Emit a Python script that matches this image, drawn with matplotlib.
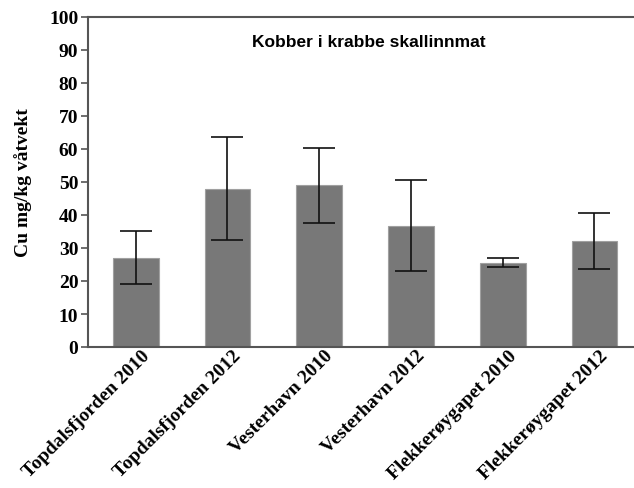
import matplotlib
matplotlib.use("Agg")
import matplotlib.pyplot as plt
from matplotlib.transforms import ScaledTranslation

# Copper in crab brown meat, mean ± SD per site and year
categories = ["Topdalsfjorden 2010", "Topdalsfjorden 2012", "Vesterhavn 2010",
              "Vesterhavn 2012", "Flekkerøygapet 2010", "Flekkerøygapet 2012"]
means = [27.1, 48.0, 49.0, 36.8, 25.5, 32.0]
sd = [8.0, 15.5, 11.3, 13.9, 1.35, 8.5]
yticks = [0, 10, 20, 30, 40, 50, 60, 70, 80, 90, 100]

serif = ["Liberation Serif", "DejaVu Serif"]
sans = ["Liberation Sans", "DejaVu Sans"]

fig = plt.figure(figsize=(6.34, 4.89), dpi=100)
ax = fig.add_axes([88 / 634, 1 - 348 / 489, 1 - 88 / 634 + 0.01, 330 / 489])

x = list(range(len(categories)))
ax.bar(x, means, width=0.5, color="#787878", edgecolor="#a0a0a0", linewidth=0.8, zorder=2)
ax.errorbar(x, means, yerr=sd, fmt="none", ecolor="#111111", elinewidth=1.2,
            capsize=11.5, capthick=1.2, zorder=3)

ax.set_xlim(-0.52, 5.5)
ax.set_ylim(0, 100)
ax.set_yticks(yticks)
ax.set_yticklabels([str(v) for v in yticks], fontfamily=serif, fontweight="bold", fontsize=14)
ax.set_xticks(x)
ax.set_xticklabels(categories, rotation=45, ha="right", rotation_mode="anchor",
                   fontfamily=serif, fontweight="bold", fontsize=14)
ax.tick_params(axis="x", length=0, pad=1)
ax.tick_params(axis="y", length=5, width=1.2, color="#555555", pad=2)
shift = ScaledTranslation(5 / 100, 2 / 100, fig.dpi_scale_trans)
for lbl in ax.get_xticklabels():
    lbl.set_transform(lbl.get_transform() + shift)

for side in ("left", "top", "bottom"):
    ax.spines[side].set_color("#555555")
    ax.spines[side].set_linewidth(1.5)
ax.spines["right"].set_visible(False)

ax.set_ylabel("Cu mg/kg våtvekt", fontfamily=serif, fontweight="bold", fontsize=14, labelpad=12)

ax.text(369, 489 - 43, "Kobber i krabbe skallinnmat", transform=None, fontsize=12.5,
        fontweight="bold", fontfamily=sans, ha="center", va="center")

fig.savefig("out.png", dpi=100)
